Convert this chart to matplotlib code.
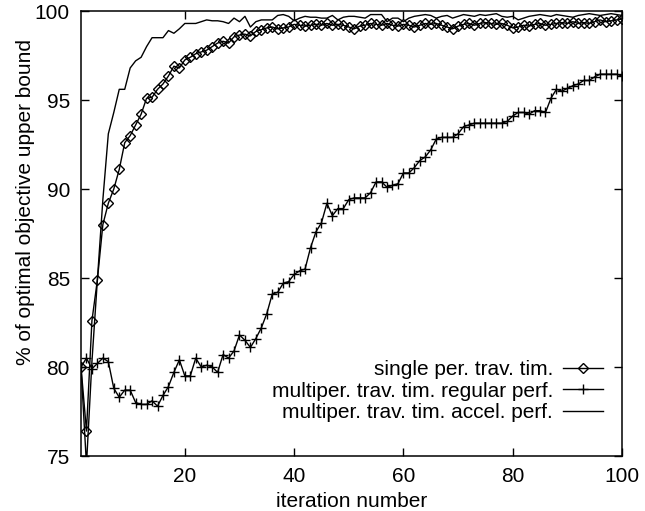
import matplotlib
matplotlib.use('Agg')
import matplotlib.pyplot as plt

# iteration numbers 1..100
iterations = list(range(1, 101))

single_per = [
    80.0, 76.4, 82.6, 84.9, 88.0, 89.2, 90.0, 91.1, 92.6, 93.0,
    93.6, 94.2, 95.1, 95.15, 95.6, 95.9, 96.35, 96.9, 96.8, 97.25,
    97.4, 97.6, 97.7, 97.8, 98.0, 98.2, 98.3, 98.2, 98.55, 98.65,
    98.7, 98.6, 98.85, 98.95, 99.05, 99.1, 99.0, 99.05, 99.1, 99.25,
    99.2, 99.15, 99.2, 99.25, 99.2, 99.3, 99.2, 99.25, 99.2, 99.1,
    99.0, 99.15, 99.2, 99.3, 99.25, 99.2, 99.3, 99.2, 99.15, 99.25,
    99.2, 99.1, 99.2, 99.3, 99.25, 99.3, 99.2, 99.1, 99.0, 99.15,
    99.25, 99.3, 99.2, 99.3, 99.35, 99.3, 99.25, 99.3, 99.2, 99.05,
    99.1, 99.2, 99.15, 99.25, 99.3, 99.2, 99.25, 99.3, 99.35, 99.3,
    99.4, 99.3, 99.35, 99.3, 99.4, 99.5, 99.4, 99.45, 99.5, 99.55]

multi_regular = [
    80.0, 80.5, 79.9, 80.2, 80.5, 80.3, 78.8, 78.3, 78.7, 78.7,
    78.0, 77.9, 77.9, 78.1, 77.8, 78.4, 78.9, 79.7, 80.4, 79.5,
    79.5, 80.5, 80.0, 80.1, 80.0, 79.7, 80.7, 80.5, 80.9, 81.8,
    81.5, 81.1, 81.6, 82.2, 83.0, 84.1, 84.2, 84.7, 84.8, 85.2,
    85.4, 85.5, 86.7, 87.6, 88.1, 89.2, 88.5, 88.9, 88.9, 89.4,
    89.5, 89.5, 89.5, 89.8, 90.4, 90.4, 90.1, 90.2, 90.3, 90.9,
    90.9, 91.2, 91.6, 91.8, 92.2, 92.8, 92.9, 92.9, 92.9, 93.1,
    93.5, 93.6, 93.7, 93.7, 93.7, 93.7, 93.7, 93.7, 93.8, 94.1,
    94.3, 94.3, 94.2, 94.4, 94.4, 94.3, 95.1, 95.6, 95.5, 95.65,
    95.8, 95.9, 96.1, 96.1, 96.3, 96.45, 96.45, 96.45, 96.45, 96.35]

multi_accel = [
    80.0, 74.5, 80.3, 84.9, 89.4, 93.1, 94.3, 95.6, 95.6, 96.8,
    97.2, 97.4, 98.0, 98.5, 98.5, 98.5, 98.9, 98.75, 99.0, 99.3,
    99.3, 99.3, 99.4, 99.5, 99.45, 99.45, 99.4, 99.3, 99.6, 99.4,
    99.7, 99.1, 99.4, 99.5, 99.5, 99.5, 99.75, 99.8, 99.7, 99.45,
    99.6, 99.7, 99.65, 99.65, 99.6, 99.6, 99.75, 99.5, 99.65, 99.7,
    99.7, 99.65, 99.6, 99.8, 99.8, 99.8, 99.4, 99.6, 99.6, 99.4,
    99.6, 99.7, 99.75, 99.8, 99.75, 99.6, 99.7, 99.75, 99.6, 99.7,
    99.8, 99.75, 99.7, 99.8, 99.75, 99.8, 99.85, 99.7, 99.65, 99.7,
    99.5, 99.6, 99.7, 99.75, 99.8, 99.75, 99.7, 99.8, 99.75, 99.7,
    99.65, 99.75, 99.8, 99.85, 99.8, 99.75, 99.8, 99.85, 99.8, 99.75]

x_ticks = [20, 40, 60, 80, 100]
y_ticks = [75, 80, 85, 90, 95, 100]

plt.rcParams['font.family'] = ['Liberation Sans', 'DejaVu Sans']
plt.rcParams['font.size'] = 15

fig = plt.figure(figsize=(6.45, 5.11), dpi=100)
ax = fig.add_axes([81 / 645, 55 / 511, 541 / 645, 445 / 511])

ax.plot(iterations, single_per, color='black', lw=1.0, marker='D', ms=5,
        mfc='none', mec='black', mew=1.0, label='single per. trav. tim.')
ax.plot(iterations, multi_regular, color='black', lw=1.0, marker='+', ms=7,
        mew=1.0, label='multiper. trav. tim. regular perf.')
ax.plot(iterations, multi_accel, color='black', lw=1.0,
        label='multiper. trav. tim. accel. perf.')

ax.set_xlim(1, 100)
ax.set_ylim(75, 100)
ax.set_xticks(x_ticks)
ax.set_yticks(y_ticks)
ax.tick_params(direction='in', top=True, right=True, length=6, width=1.0, pad=8)
for s in ax.spines.values():
    s.set_linewidth(1.1)

ax.set_xlabel('iteration number', labelpad=4)
ax.set_ylabel('% of optimal objective upper bound')
ax.yaxis.set_label_coords(-0.085, 0.57)

ax.legend(loc='center right', bbox_to_anchor=(0.965, 0.146), frameon=False,
          markerfirst=False, borderpad=0, borderaxespad=0, labelspacing=0.12,
          handlelength=1.9, handletextpad=0.5)

plt.savefig('out.png', dpi=100)
